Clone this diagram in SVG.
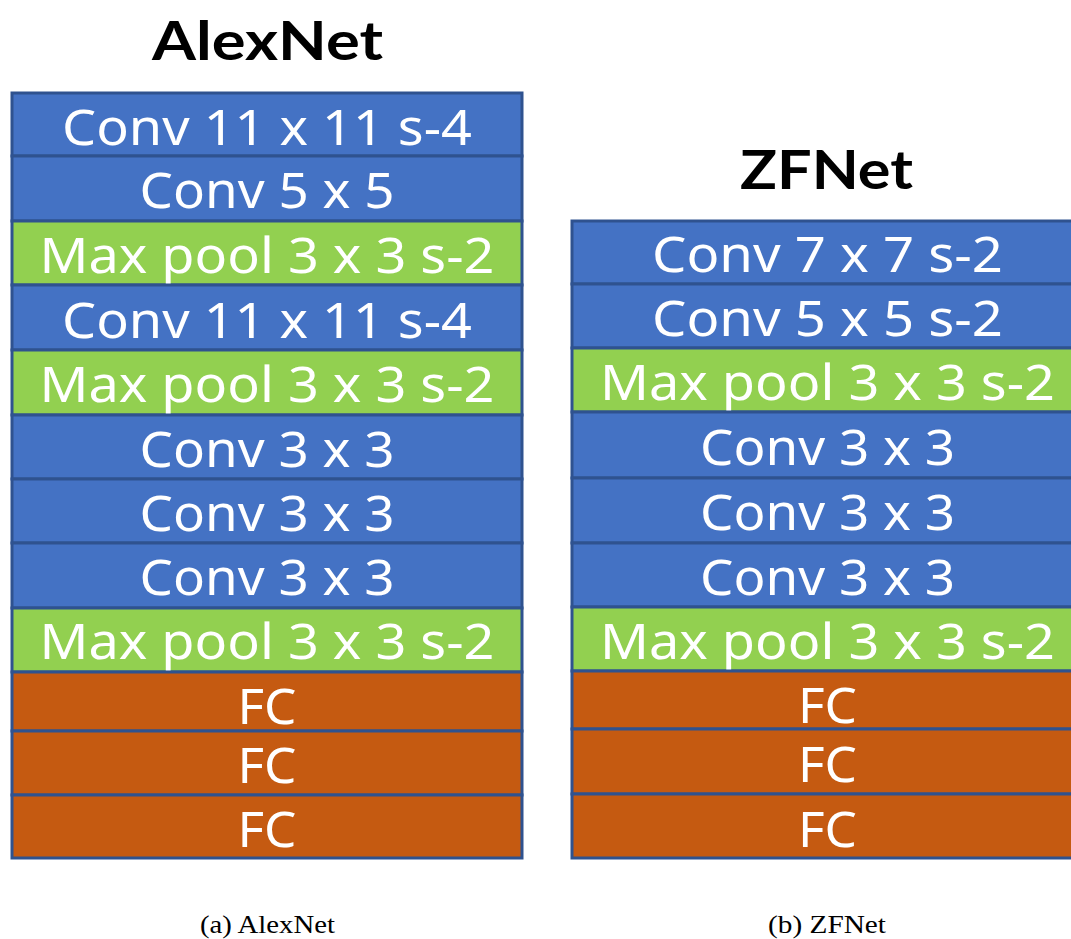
<svg xmlns="http://www.w3.org/2000/svg" width="1071" height="939" viewBox="0 0 1071 939">
  <style>
    .layer { stroke: #2F528F; stroke-width: 3; }
    .conv { fill: #4472C4; }
    .pool { fill: #92D050; }
    .fc { fill: #C55A11; }
    .lbl { fill: #FFFFFF; font-family: "Noto Sans", "Open Sans", sans-serif; font-size: 50px; text-anchor: middle; }
    .title { fill: #000000; font-family: Lato, "Liberation Sans", sans-serif; font-weight: bold; font-size: 53px; text-anchor: middle; }
    .cap { fill: #000000; font-family: "Liberation Serif", "Times New Roman", serif; font-size: 25px; text-anchor: middle; }
  </style>

  <rect width="1071" height="939" fill="#FFFFFF"/>

  <!-- AlexNet column -->
  <text class="title" x="267.5" y="60" textLength="231" lengthAdjust="spacingAndGlyphs">AlexNet</text>
  <g id="alexnet">
    <g id="a1"><rect class="layer conv" x="12" y="93" width="510" height="63"/><text class="lbl" x="267" y="145" textLength="410" lengthAdjust="spacingAndGlyphs">Conv 11 x 11 s-4</text></g>
    <g id="a2"><rect class="layer conv" x="12" y="156" width="510" height="65"/><text class="lbl" x="267" y="208" textLength="255" lengthAdjust="spacingAndGlyphs">Conv 5 x 5</text></g>
    <g id="a3"><rect class="layer pool" x="12" y="221" width="510" height="64"/><text class="lbl" x="267" y="273" textLength="455" lengthAdjust="spacingAndGlyphs">Max pool 3 x 3 s-2</text></g>
    <g id="a4"><rect class="layer conv" x="12" y="285" width="510" height="65"/><text class="lbl" x="267" y="338" textLength="410" lengthAdjust="spacingAndGlyphs">Conv 11 x 11 s-4</text></g>
    <g id="a5"><rect class="layer pool" x="12" y="350" width="510" height="65"/><text class="lbl" x="267" y="402" textLength="455" lengthAdjust="spacingAndGlyphs">Max pool 3 x 3 s-2</text></g>
    <g id="a6"><rect class="layer conv" x="12" y="415" width="510" height="64"/><text class="lbl" x="267" y="467" textLength="255" lengthAdjust="spacingAndGlyphs">Conv 3 x 3</text></g>
    <g id="a7"><rect class="layer conv" x="12" y="479" width="510" height="64"/><text class="lbl" x="267" y="531" textLength="255" lengthAdjust="spacingAndGlyphs">Conv 3 x 3</text></g>
    <g id="a8"><rect class="layer conv" x="12" y="543" width="510" height="65"/><text class="lbl" x="267" y="595" textLength="255" lengthAdjust="spacingAndGlyphs">Conv 3 x 3</text></g>
    <g id="a9"><rect class="layer pool" x="12" y="608" width="510" height="64"/><text class="lbl" x="267" y="659" textLength="455" lengthAdjust="spacingAndGlyphs">Max pool 3 x 3 s-2</text></g>
    <g id="a10"><rect class="layer fc" x="12" y="672" width="510" height="59"/><text class="lbl" x="267" y="724" textLength="59" lengthAdjust="spacingAndGlyphs">FC</text></g>
    <g id="a11"><rect class="layer fc" x="12" y="731" width="510" height="64"/><text class="lbl" x="267" y="783" textLength="59" lengthAdjust="spacingAndGlyphs">FC</text></g>
    <g id="a12"><rect class="layer fc" x="12" y="795" width="510" height="63"/><text class="lbl" x="267" y="847" textLength="59" lengthAdjust="spacingAndGlyphs">FC</text></g>
  </g>

  <!-- ZFNet column (runs past the right edge) -->
  <text class="title" x="826.5" y="189" textLength="173" lengthAdjust="spacingAndGlyphs">ZFNet</text>
  <g id="zfnet">
    <g id="z1"><rect class="layer conv" x="572" y="221" width="510" height="63"/><text class="lbl" x="827.5" y="272" textLength="351" lengthAdjust="spacingAndGlyphs">Conv 7 x 7 s-2</text></g>
    <g id="z2"><rect class="layer conv" x="572" y="284" width="510" height="64"/><text class="lbl" x="827.5" y="336" textLength="351" lengthAdjust="spacingAndGlyphs">Conv 5 x 5 s-2</text></g>
    <g id="z3"><rect class="layer pool" x="572" y="348" width="510" height="64"/><text class="lbl" x="827.5" y="400" textLength="455" lengthAdjust="spacingAndGlyphs">Max pool 3 x 3 s-2</text></g>
    <g id="z4"><rect class="layer conv" x="572" y="412" width="510" height="66"/><text class="lbl" x="827.5" y="465" textLength="255" lengthAdjust="spacingAndGlyphs">Conv 3 x 3</text></g>
    <g id="z5"><rect class="layer conv" x="572" y="478" width="510" height="65"/><text class="lbl" x="827.5" y="530" textLength="255" lengthAdjust="spacingAndGlyphs">Conv 3 x 3</text></g>
    <g id="z6"><rect class="layer conv" x="572" y="543" width="510" height="64"/><text class="lbl" x="827.5" y="595" textLength="255" lengthAdjust="spacingAndGlyphs">Conv 3 x 3</text></g>
    <g id="z7"><rect class="layer pool" x="572" y="607" width="510" height="64"/><text class="lbl" x="827.5" y="659" textLength="455" lengthAdjust="spacingAndGlyphs">Max pool 3 x 3 s-2</text></g>
    <g id="z8"><rect class="layer fc" x="572" y="671" width="510" height="58"/><text class="lbl" x="827.5" y="723" textLength="59" lengthAdjust="spacingAndGlyphs">FC</text></g>
    <g id="z9"><rect class="layer fc" x="572" y="729" width="510" height="65"/><text class="lbl" x="827.5" y="782" textLength="59" lengthAdjust="spacingAndGlyphs">FC</text></g>
    <g id="z10"><rect class="layer fc" x="572" y="794" width="510" height="64"/><text class="lbl" x="827.5" y="847" textLength="59" lengthAdjust="spacingAndGlyphs">FC</text></g>
  </g>

  <!-- No connectors between layers; stacks only -->
  <g id="connectors"/>

  <!-- Sub-figure captions -->
  <text class="cap" x="267.5" y="933" textLength="135" lengthAdjust="spacingAndGlyphs">(a) AlexNet</text>
  <text class="cap" x="827" y="933" textLength="118" lengthAdjust="spacingAndGlyphs">(b) ZFNet</text>
</svg>
